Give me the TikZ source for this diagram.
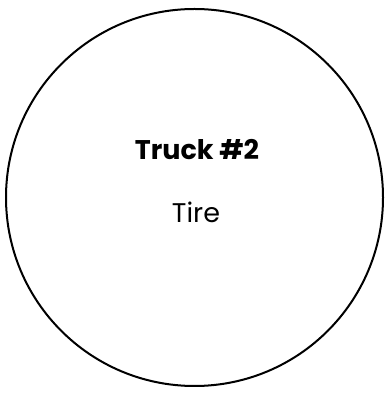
\documentclass[tikz,border=0pt]{standalone}
\usepackage{fontspec}
\setmainfont{Poppins}
\usetikzlibrary{positioning}

\begin{document}
\begin{tikzpicture}[x=1pt, y=1pt]
  % bounding box in pixels
  \useasboundingbox (0,0) rectangle (389,395);
  \node[draw, circle, line width=2pt, minimum size=377pt, inner sep=0pt] (wheel) at (194.5,197.5) {};
  \node[font=\fontsize{27}{32}\selectfont\bfseries, anchor=base] (truck) at (197,235) {Truck \#2};
  \node[font=\fontsize{27}{32}\selectfont, anchor=base] (part) at (196,172) {Tire};
\end{tikzpicture}
\end{document}
